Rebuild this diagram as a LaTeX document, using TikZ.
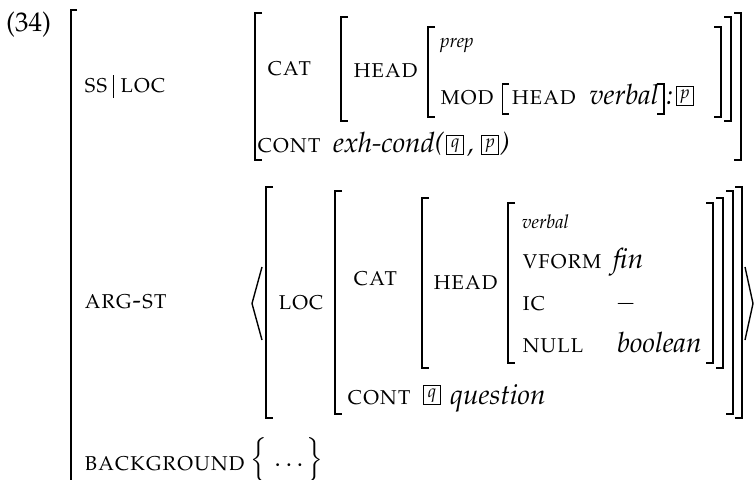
\documentclass[tikz,border=0pt]{standalone}
\usepackage[T1]{fontenc}
\usepackage{mathpazo}
\newcommand\lbrk[3]{\draw[brk] (#1+7,#2) -- (#1,#2) -- (#1,#3) -- (#1+7,#3);}
\newcommand\rbrk[3]{\draw[brk] (#1-7,#2) -- (#1,#2) -- (#1,#3) -- (#1-7,#3);}
\begin{document}
\begin{tikzpicture}[x=1pt,y=-1pt,
  lbl/.style={anchor=base west,inner sep=0pt,font=\fontsize{25}{30}\selectfont\scshape},
  plain/.style={anchor=base west,inner sep=0pt,font=\fontsize{25}{30}\selectfont},
  val/.style={anchor=base west,inner sep=0pt,font=\fontsize{28}{34}\selectfont\itshape},
  typ/.style={anchor=base west,inner sep=0pt,font=\fontsize{19}{22}\selectfont\itshape},
  tag/.style={draw,line width=0.7pt,inner sep=0pt,minimum width=17pt,minimum height=19pt,anchor=center,font=\fontsize{18}{20}\selectfont\itshape},
  brk/.style={line width=1.4pt}]
\useasboundingbox (0,0) rectangle (754,479);
% example number and outer bracket
\node[plain, font=\fontsize{27}{32}\selectfont] (ex) at (6,31) {(34)};
\draw[brk] (77,10) -- (71,10) -- (71,490);
% SS|LOC
\node[lbl] (ss) at (84,92) {ss};
\node[lbl] (loc1) at ([xshift=12pt]ss.base east) {loc};
\coordinate (bartop) at ([xshift=6pt,yshift=17pt]ss.base east);
\coordinate (barbot) at ([xshift=6pt,yshift=-6pt]ss.base east);
\draw[line width=1pt] (bartop) -- (barbot);
\lbrk{255}{13}{160}
\rbrk{741}{13}{160}
\node[lbl] (cat1) at (267,75) {cat};
\lbrk{341}{17}{121}
\rbrk{731}{17}{121}
\node[lbl] (head1) at (353,77) {head};
\lbrk{428}{27}{117}
\rbrk{721}{27}{117}
\node[typ] (prep) at (440,47) {prep};
\node[lbl] (mod) at (440,104) {mod};
\coordinate (mb) at ([xshift=8pt]mod.base east);
\draw[brk] ([xshift=7pt,yshift=20pt]mb) -- ([yshift=20pt]mb) -- ([yshift=-10pt]mb) -- ([xshift=7pt,yshift=-10pt]mb);
\node[lbl] (head2) at ([xshift=9pt]mb) {head};
\node[val] (verb1) at ([xshift=13pt]head2.base east) {verbal};
\coordinate (me) at ([xshift=5pt]verb1.base east);
\draw[brk] ([xshift=-7pt,yshift=20pt]me) -- ([yshift=20pt]me) -- ([yshift=-10pt]me) -- ([xshift=-7pt,yshift=-10pt]me);
\node[val] (colon) at ([xshift=2pt]me) {:};
\node[tag, anchor=south west] (p1) at ([xshift=3pt,yshift=-2pt]colon.base east) {p};
\node[lbl] (cont1) at (257,152) {cont};
\node[val] (exh) at (333,152) {exh-cond(};
\node[tag, anchor=south west] (q1) at ([xshift=2pt,yshift=-3pt]exh.base east) {q};
\node[val] (comma) at ([xshift=3pt]q1.east |- exh.base) {,};
\node[tag, anchor=south west] (p2) at ([xshift=7pt,yshift=-3pt]comma.base east) {p};
\node[val] (rpar) at ([xshift=1pt]p2.east |- exh.base) {)};
% ARG-ST
\node[lbl] (argst) at (84,308) {arg-st};
\draw[brk] (262,267) -- (252,303.5) -- (262,340);
\draw[brk] (745,267) -- (753,303.5) -- (745,340);
\lbrk{266}{187}{418}
\rbrk{742}{187}{418}
\node[lbl] (loc) at (278,309) {loc};
\lbrk{335}{191}{414}
\rbrk{733}{191}{414}
\node[lbl] (cat2) at (353,285) {cat};
\lbrk{422}{198}{368}
\rbrk{723}{198}{368}
\node[lbl] (head3) at (433,289) {head};
\lbrk{508}{203}{363}
\rbrk{713}{203}{363}
\node[typ] (verbal2) at (522,228) {verbal};
\node[lbl] (vform) at (522,268) {vform};
\node[val] (fin) at (613,268) {fin};
\node[lbl] (ic) at (522,310) {ic};
\node[plain] (minus) at (615,310) {$-$};
\node[lbl] (null) at (522,352) {null};
\node[val] (bool) at (617,352) {boolean};
\node[lbl] (cont2) at (347,404) {cont};
\node[tag] (q2) at (432,395) {q};
\node[val] (quest) at (450,404) {question};
% BACKGROUND
\node[lbl] (bg) at (84,470) {background};
\node[plain] (dots) at (250,466) {$\left\{\rule[-14pt]{0pt}{40pt}\mkern2mu\ldots\mkern2mu\right\}$};
\end{tikzpicture}
\end{document}
